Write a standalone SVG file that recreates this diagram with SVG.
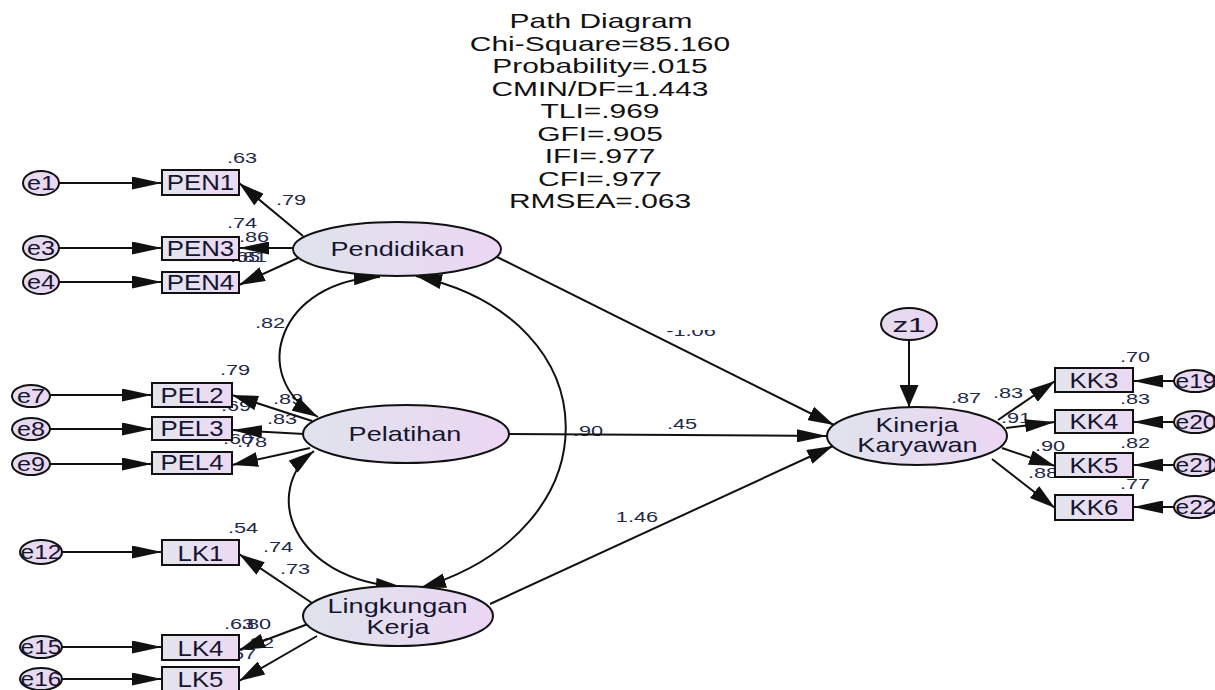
<svg xmlns="http://www.w3.org/2000/svg" width="1215" height="690" viewBox="0 0 1215 690">
<style>
text{font-family:"Liberation Sans",Arial,sans-serif;text-anchor:middle}
.t{font-size:20.5px;fill:#111}
.n{font-size:20.5px;fill:#151530}
.b{font-size:21.5px;fill:#151530}
.e{font-size:21px;fill:#151530}
.l{font-size:14.5px;fill:#1e2a4a}
.ln{fill:none;stroke:#111;stroke-width:2}
.nd{stroke:#111;stroke-width:2}
.lat{fill:url(#gl)}
.obs{fill:url(#gb)}
.err{fill:url(#ge)}
</style>
<defs>
<linearGradient id="gl" x1="0" y1="0" x2="1" y2="0"><stop offset="0" stop-color="#dfe3ec"/><stop offset="1" stop-color="#ecd6f3"/></linearGradient>
<linearGradient id="gb" x1="0" y1="0" x2="1" y2="0"><stop offset="0" stop-color="#e3e5ee"/><stop offset="1" stop-color="#ecd8f2"/></linearGradient>
<linearGradient id="ge" x1="0" y1="0" x2="1" y2="0"><stop offset="0" stop-color="#e4dced"/><stop offset="1" stop-color="#ecd6f2"/></linearGradient>
<marker id="mh" viewBox="0 0 30 13" refX="30" refY="6.5" markerWidth="30" markerHeight="13" markerUnits="userSpaceOnUse" orient="auto-start-reverse"><path d="M0,0 L30,6.5 L0,13 z" fill="#111"/></marker>
<marker id="md" viewBox="0 0 26 15" refX="26" refY="7.5" markerWidth="26" markerHeight="15" markerUnits="userSpaceOnUse" orient="auto-start-reverse"><path d="M0,0 L26,7.5 L0,15 z" fill="#111"/></marker>
<marker id="mv" viewBox="0 0 22 19" refX="22" refY="9.5" markerWidth="22" markerHeight="19" markerUnits="userSpaceOnUse" orient="auto-start-reverse"><path d="M0,0 L22,9.5 L0,19 z" fill="#111"/></marker>
<clipPath id="cut"><rect x="-60" y="-6" width="120" height="12"/></clipPath>
</defs>
<rect width="1215" height="690" fill="#fff"/>

<g id="title" class="t">
<text transform="matrix(1.46 0 0 1 601 28)">Path Diagram</text>
<text transform="matrix(1.46 0 0 1 600 50.5)">Chi-Square=85.160</text>
<text transform="matrix(1.46 0 0 1 600 73)">Probability=.015</text>
<text transform="matrix(1.46 0 0 1 600 95.5)">CMIN/DF=1.443</text>
<text transform="matrix(1.46 0 0 1 600 118)">TLI=.969</text>
<text transform="matrix(1.46 0 0 1 600 140.5)">GFI=.905</text>
<text transform="matrix(1.46 0 0 1 600 163)">IFI=.977</text>
<text transform="matrix(1.46 0 0 1 600 185.5)">CFI=.977</text>
<text transform="matrix(1.46 0 0 1 600 208)">RMSEA=.063</text>
</g>

<g id="labels" class="l">
<text transform="matrix(1.5 0 0 1 242 163)">.63</text>
<text transform="matrix(1.5 0 0 1 291 205)">.79</text>
<text transform="matrix(1.5 0 0 1 242 228)">.74</text>
<text transform="matrix(1.5 0 0 1 254 242)">.86</text>
<text transform="matrix(1.5 0 0 1 245 262)">.65</text>
<text transform="matrix(1.5 0 0 1 252 262)">.81</text>
<text transform="matrix(1.5 0 0 1 270 328)">.82</text>
<text transform="matrix(1.5 0 0 1 235 375)">.79</text>
<text transform="matrix(1.5 0 0 1 288 404)">.89</text>
<text transform="matrix(1.5 0 0 1 236 411)">.69</text>
<text transform="matrix(1.5 0 0 1 282 424)">.83</text>
<text transform="matrix(1.5 0 0 1 238 444)">.60</text>
<text transform="matrix(1.5 0 0 1 252 447)">.78</text>
<text transform="matrix(1.5 0 0 1 243 533)">.54</text>
<text transform="matrix(1.5 0 0 1 278 552)">.74</text>
<text transform="matrix(1.5 0 0 1 295 574)">.73</text>
<text transform="matrix(1.5 0 0 1 239 629)">.63</text>
<text transform="matrix(1.5 0 0 1 256 629)">.80</text>
<text transform="matrix(1.5 0 0 1 259 648)">.82</text>
<text transform="matrix(1.5 0 0 1 241 659)">.67</text>
<text transform="matrix(1.5 0 0 1 588 436)">.90</text>
<text transform="matrix(1.5 0 0 1 682 429)">.45</text>
<text clip-path="url(#cut)" transform="matrix(1.5 0 0 1 691 336)">-1.06</text>
<text transform="matrix(1.5 0 0 1 637 522)">1.46</text>
<text transform="matrix(1.5 0 0 1 966 403)">.87</text>
<text transform="matrix(1.5 0 0 1 1135 362)">.70</text>
<text transform="matrix(1.5 0 0 1 1135 404)">.83</text>
<text transform="matrix(1.5 0 0 1 1135 448)">.82</text>
<text transform="matrix(1.5 0 0 1 1135 489)">.77</text>
<text transform="matrix(1.5 0 0 1 1008 398)">.83</text>
<text transform="matrix(1.5 0 0 1 1016 423)">.91</text>
<text transform="matrix(1.5 0 0 1 1050 451)">.90</text>
<text transform="matrix(1.5 0 0 1 1043 478)">.88</text>
</g>

<g id="connectors" class="ln">
<line x1="59" y1="183" x2="162" y2="183" marker-end="url(#mh)"/>
<line x1="59" y1="248" x2="162" y2="248" marker-end="url(#mh)"/>
<line x1="59" y1="282" x2="162" y2="282" marker-end="url(#mh)"/>
<line x1="50" y1="395" x2="152" y2="395" marker-end="url(#mh)"/>
<line x1="50" y1="429" x2="152" y2="429" marker-end="url(#mh)"/>
<line x1="50" y1="464" x2="152" y2="464" marker-end="url(#mh)"/>
<line x1="61" y1="552" x2="162" y2="552" marker-end="url(#mh)"/>
<line x1="61" y1="647" x2="162" y2="647" marker-end="url(#mh)"/>
<line x1="61" y1="679" x2="162" y2="679" marker-end="url(#mh)"/>
<line x1="1175" y1="381" x2="1133" y2="381" marker-end="url(#mh)"/>
<line x1="1175" y1="422" x2="1133" y2="422" marker-end="url(#mh)"/>
<line x1="1175" y1="465" x2="1133" y2="465" marker-end="url(#mh)"/>
<line x1="1175" y1="507" x2="1133" y2="507" marker-end="url(#mh)"/>
<line x1="303" y1="236" x2="239" y2="183" marker-end="url(#md)"/>
<line x1="295" y1="248" x2="239" y2="248" marker-end="url(#mh)"/>
<line x1="298" y1="258" x2="239" y2="285" marker-end="url(#md)"/>
<line x1="312" y1="421" x2="232" y2="395" marker-end="url(#md)"/>
<line x1="304" y1="434" x2="232" y2="430" marker-end="url(#mh)"/>
<line x1="310" y1="448" x2="232" y2="465" marker-end="url(#md)"/>
<line x1="312" y1="603" x2="239" y2="554" marker-end="url(#md)"/>
<line x1="308" y1="624" x2="239" y2="650" marker-end="url(#md)"/>
<line x1="317" y1="636" x2="239" y2="681" marker-end="url(#md)"/>
<line x1="998" y1="420" x2="1055" y2="381" marker-end="url(#md)"/>
<line x1="1006" y1="428" x2="1055" y2="422" marker-end="url(#mh)"/>
<line x1="1002" y1="448" x2="1055" y2="466" marker-end="url(#md)"/>
<line x1="992" y1="459" x2="1055" y2="508" marker-end="url(#md)"/>
<line x1="909" y1="340" x2="909" y2="407" marker-end="url(#mv)"/>
<line x1="497" y1="257" x2="834" y2="425" marker-end="url(#md)"/>
<line x1="509" y1="434" x2="827" y2="436" marker-end="url(#mh)"/>
<line x1="490" y1="604" x2="833" y2="446" marker-end="url(#md)"/>
<path d="M380,277 C280,280 246,376 318,417" marker-start="url(#md)" marker-end="url(#md)"/>
<path d="M314,451 C262,490 290,580 402,587" marker-start="url(#md)" marker-end="url(#md)"/>
<path d="M416,276 C615,320 615,530 420,588" marker-start="url(#md)" marker-end="url(#md)"/>
</g>

<g id="Pendidikan"><ellipse class="nd lat" cx="397" cy="249" rx="104" ry="27"/><text class="n" transform="matrix(1.32 0 0 1 397.5 256)">Pendidikan</text></g>
<g id="Pelatihan"><ellipse class="nd lat" cx="406" cy="434" rx="103" ry="29"/><text class="n" transform="matrix(1.32 0 0 1 405 441)">Pelatihan</text></g>
<g id="LingkunganKerja"><ellipse class="nd lat" cx="398" cy="616" rx="95" ry="30"/><text class="n" transform="matrix(1.32 0 0 1 397.5 613)">Lingkungan</text><text class="n" transform="matrix(1.32 0 0 1 398 634)">Kerja</text></g>
<g id="KinerjaKaryawan"><ellipse class="nd lat" cx="917" cy="436" rx="90" ry="29"/><text class="n" transform="matrix(1.3 0 0 1 917 432)">Kinerja</text><text class="n" transform="matrix(1.32 0 0 1 917.5 452)">Karyawan</text></g>
<g id="z1"><ellipse class="nd err" cx="909" cy="324" rx="28" ry="16"/><text class="e" transform="matrix(1.5 0 0 1 909 332)">z1</text></g>

<g id="PEN1"><rect class="nd obs" x="162" y="170" width="77" height="25"/><text class="b" transform="matrix(1.2 0 0 1 200.5 190)">PEN1</text></g>
<g id="PEN3"><rect class="nd obs" x="162" y="237" width="77" height="23"/><text class="b" transform="matrix(1.2 0 0 1 200.5 256)">PEN3</text></g>
<g id="PEN4"><rect class="nd obs" x="162" y="272" width="77" height="21"/><text class="b" transform="matrix(1.2 0 0 1 200.5 290)">PEN4</text></g>
<g id="PEL2"><rect class="nd obs" x="152" y="383" width="80" height="24"/><text class="b" transform="matrix(1.2 0 0 1 192 403)">PEL2</text></g>
<g id="PEL3"><rect class="nd obs" x="152" y="417" width="80" height="23"/><text class="b" transform="matrix(1.2 0 0 1 192 436)">PEL3</text></g>
<g id="PEL4"><rect class="nd obs" x="152" y="452" width="80" height="22"/><text class="b" transform="matrix(1.2 0 0 1 192 470)">PEL4</text></g>
<g id="LK1"><rect class="nd obs" x="162" y="540" width="77" height="25"/><text class="b" transform="matrix(1.2 0 0 1 200.5 561)">LK1</text></g>
<g id="LK4"><rect class="nd obs" x="162" y="635" width="77" height="25"/><text class="b" transform="matrix(1.2 0 0 1 200.5 656)">LK4</text></g>
<g id="LK5"><rect class="nd obs" x="162" y="667" width="77" height="24"/><text class="b" transform="matrix(1.2 0 0 1 200.5 687)">LK5</text></g>
<g id="KK3"><rect class="nd obs" x="1055" y="368" width="78" height="24"/><text class="b" transform="matrix(1.2 0 0 1 1094 388)">KK3</text></g>
<g id="KK4"><rect class="nd obs" x="1055" y="410" width="78" height="23"/><text class="b" transform="matrix(1.2 0 0 1 1094 429)">KK4</text></g>
<g id="KK5"><rect class="nd obs" x="1055" y="453" width="78" height="24"/><text class="b" transform="matrix(1.2 0 0 1 1094 473)">KK5</text></g>
<g id="KK6"><rect class="nd obs" x="1055" y="495" width="78" height="25"/><text class="b" transform="matrix(1.2 0 0 1 1094 515)">KK6</text></g>

<g id="e1"><ellipse class="nd err" cx="41" cy="183" rx="18" ry="12"/><text class="e" transform="matrix(1.2 0 0 1 41 190)">e1</text></g>
<g id="e3"><ellipse class="nd err" cx="41" cy="248" rx="18" ry="12"/><text class="e" transform="matrix(1.2 0 0 1 41 255)">e3</text></g>
<g id="e4"><ellipse class="nd err" cx="41" cy="282" rx="18" ry="12"/><text class="e" transform="matrix(1.2 0 0 1 41 289)">e4</text></g>
<g id="e7"><ellipse class="nd err" cx="31" cy="396" rx="19" ry="11"/><text class="e" transform="matrix(1.2 0 0 1 31 403)">e7</text></g>
<g id="e8"><ellipse class="nd err" cx="31" cy="429" rx="19" ry="11"/><text class="e" transform="matrix(1.2 0 0 1 31 436)">e8</text></g>
<g id="e9"><ellipse class="nd err" cx="31" cy="464" rx="19" ry="11"/><text class="e" transform="matrix(1.2 0 0 1 31 471)">e9</text></g>
<g id="e12"><ellipse class="nd err" cx="41" cy="552" rx="21" ry="12"/><text class="e" transform="matrix(1.17 0 0 1 41 559)">e12</text></g>
<g id="e15"><ellipse class="nd err" cx="41" cy="647" rx="21" ry="11"/><text class="e" transform="matrix(1.17 0 0 1 41 654)">e15</text></g>
<g id="e16"><ellipse class="nd err" cx="41" cy="679" rx="21" ry="11"/><text class="e" transform="matrix(1.17 0 0 1 41 686)">e16</text></g>
<g id="e19"><ellipse class="nd err" cx="1195" cy="381" rx="21" ry="11"/><text class="e" transform="matrix(1.17 0 0 1 1196 388)">e19</text></g>
<g id="e20"><ellipse class="nd err" cx="1195" cy="422" rx="21" ry="11"/><text class="e" transform="matrix(1.17 0 0 1 1196 429)">e20</text></g>
<g id="e21"><ellipse class="nd err" cx="1195" cy="465" rx="21" ry="11"/><text class="e" transform="matrix(1.17 0 0 1 1196 472)">e21</text></g>
<g id="e22"><ellipse class="nd err" cx="1195" cy="507" rx="21" ry="11"/><text class="e" transform="matrix(1.17 0 0 1 1196 514)">e22</text></g>
</svg>
